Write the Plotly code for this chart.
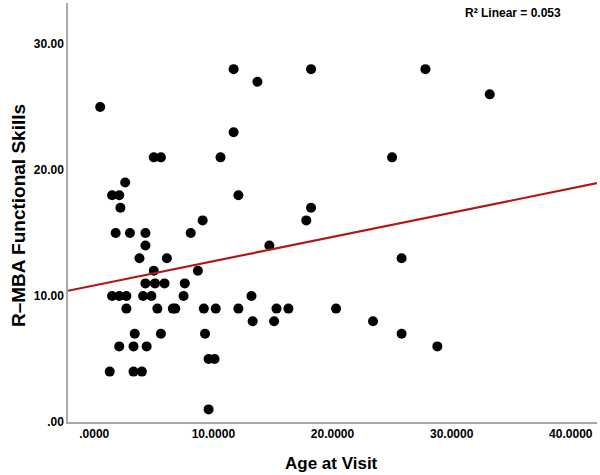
import numpy as np
import plotly.graph_objects as go

# Data
age = [0.5, 11.7, 13.7, 11.7, 5.0, 5.6, 10.6, 2.6, 1.5, 2.1, 12.1, 2.2, 9.1, 1.8, 3.0, 4.3, 8.1,
       4.3, 3.8, 6.1, 5.0, 8.7, 4.3, 5.1, 5.9, 7.6, 1.5, 2.1, 2.7, 4.1, 4.8, 7.5, 13.2, 2.7, 5.3,
       6.6, 6.8, 9.2, 10.2, 12.1, 13.3, 3.4, 5.6, 9.3, 2.1, 3.3, 4.4, 9.6, 10.1, 1.3, 3.3, 4.0,
       9.6, 18.2, 17.8, 14.7, 25.8, 15.3, 16.3, 15.1, 20.3, 23.4, 25.8, 18.2, 27.8, 25.0, 33.2, 28.8]
skills = [25, 28, 27, 23, 21, 21, 21, 19, 18, 18, 18, 17, 16, 15, 15, 15, 15,
          14, 13, 13, 12, 12, 11, 11, 11, 11, 10, 10, 10, 10, 10, 10, 10, 9, 9,
          9, 9, 9, 9, 9, 8, 7, 7, 7, 6, 6, 6, 5, 5, 4, 4, 4,
          1, 17, 16, 14, 13, 9, 9, 8, 9, 8, 7, 28, 28, 21, 26, 6]

x_ticks = [0, 10, 20, 30, 40]
x_tick_labels = [".0000", "10.0000", "20.0000", "30.0000", "40.0000"]
y_ticks = [0, 10, 20, 30]
y_tick_labels = [".00", "10.00", "20.00", "30.00"]

x_range = [-2.2, 42.2]
y_range = [0, 33.25]

slope, intercept = np.polyfit(age, skills, 1)
fit_x = np.array(x_range)
fit_y = intercept + slope * fit_x

fig = go.Figure()
fig.add_trace(go.Scatter(x=age, y=skills, mode="markers",
                         marker=dict(color="black", size=10, line=dict(width=0)),
                         showlegend=False, hoverinfo="x+y"))
fig.add_trace(go.Scatter(x=fit_x, y=fit_y, mode="lines",
                         line=dict(color="#b01818", width=2.2), showlegend=False))

font_family = "Liberation Sans, Arial, sans-serif"
axis_common = dict(showgrid=False, zeroline=False, showline=True, linecolor="#a8a8a8",
                   linewidth=1.5, ticks="", automargin=False,
                   tickfont=dict(size=12, family=font_family, weight="bold", color="black"))
fig.update_layout(
    width=600, height=475,
    margin=dict(l=68, r=3, t=3, b=53),
    paper_bgcolor="white", plot_bgcolor="white",
    font=dict(family=font_family, color="black"),
    xaxis=dict(range=x_range, tickvals=x_ticks, ticktext=x_tick_labels, **axis_common),
    yaxis=dict(range=y_range, tickvals=y_ticks, ticktext=y_tick_labels, **axis_common),
    annotations=[
        dict(text="<b>R\u00b2 Linear = 0.053</b>", x=0.841, y=1.0, xref="paper", yref="paper",
             showarrow=False, font=dict(size=12, family=font_family),
             xanchor="center", yanchor="top", yshift=-1),
        dict(text="<b>Age at Visit</b>", x=0.499, y=-0.098, xref="paper", yref="paper",
             showarrow=False, font=dict(size=17, family=font_family),
             xanchor="center", yanchor="middle"),
        dict(text="<b>R\u2013MBA Functional Skills</b>", x=-0.0945, y=0.4916,
             xref="paper", yref="paper", showarrow=False, textangle=-90,
             font=dict(size=19, family=font_family), xanchor="center", yanchor="middle"),
    ],
)

fig.write_html("out.html", config={"displayModeBar": False},
               post_script="document.body.style.margin='0';document.body.style.padding='0';")
